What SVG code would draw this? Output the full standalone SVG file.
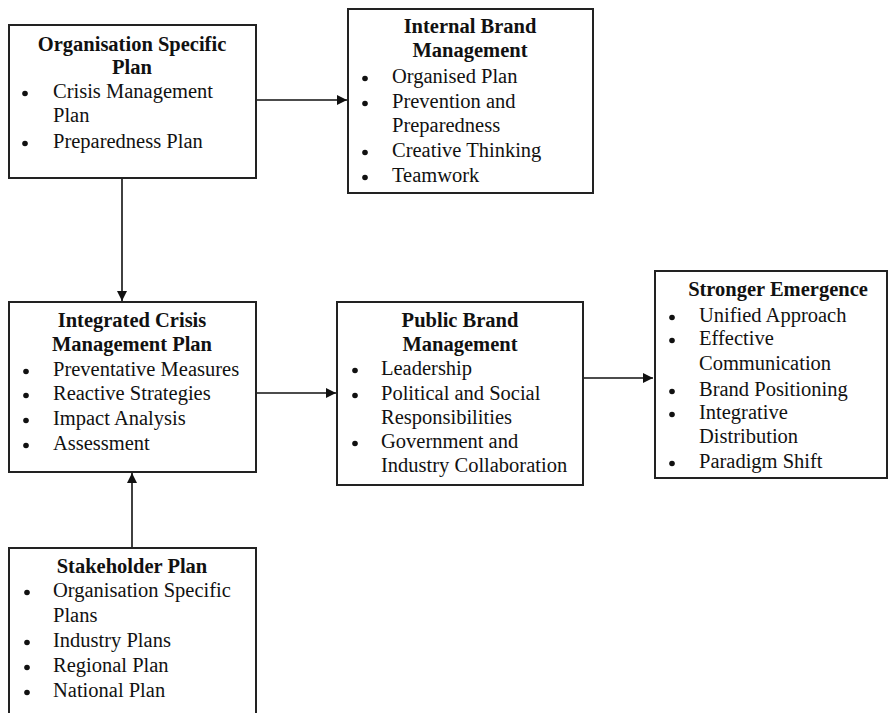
<svg xmlns="http://www.w3.org/2000/svg" width="890" height="713" viewBox="0 0 890 713">
<style>
text{font-family:"Liberation Serif","Times New Roman",serif;font-size:20.5px;fill:#111}
.t{font-weight:bold;text-anchor:middle}
.box{fill:#fff;stroke:#222;stroke-width:2}
.c{stroke:#111;stroke-width:1.6;fill:none}
.d{fill:#111}
</style>
<defs>
<marker id="ah" viewBox="0 0 10 10" refX="10" refY="5" markerWidth="10" markerHeight="10" markerUnits="userSpaceOnUse" orient="auto">
<path d="M0,0 L10,5 L0,10 Z" fill="#111"/>
</marker>
</defs>
<rect width="890" height="713" fill="#fff"/>
<g id="connectors">
<line class="c" x1="256" y1="100" x2="347" y2="100" marker-end="url(#ah)"/>
<line class="c" x1="122" y1="178" x2="122" y2="301" marker-end="url(#ah)"/>
<line class="c" x1="256" y1="393" x2="336" y2="393" marker-end="url(#ah)"/>
<line class="c" x1="583" y1="378" x2="653" y2="378" marker-end="url(#ah)"/>
<line class="c" x1="132" y1="548" x2="132" y2="473" marker-end="url(#ah)"/>
</g>
<g id="org-specific-plan">
<rect class="box" x="9" y="25" width="247" height="153"/>
<text class="t" x="132" y="51">Organisation Specific</text>
<text class="t" x="132" y="74">Plan</text>
<circle class="d" cx="25" cy="93.5" r="2.8"/><text x="53" y="98">Crisis Management</text>
<text x="53" y="122">Plan</text>
<circle class="d" cx="25" cy="143.5" r="2.8"/><text x="53" y="148">Preparedness Plan</text>
</g>
<g id="internal-brand">
<rect class="box" x="348" y="9" width="245" height="184"/>
<text class="t" x="470" y="33">Internal Brand</text>
<text class="t" x="470" y="57">Management</text>
<circle class="d" cx="365" cy="78.5" r="2.8"/><text x="392" y="83">Organised Plan</text>
<circle class="d" cx="365" cy="103.5" r="2.8"/><text x="392" y="108">Prevention and</text>
<text x="392" y="132">Preparedness</text>
<circle class="d" cx="365" cy="152.5" r="2.8"/><text x="392" y="157">Creative Thinking</text>
<circle class="d" cx="365" cy="177.5" r="2.8"/><text x="392" y="182">Teamwork</text>
</g>
<g id="integrated-crisis">
<rect class="box" x="9" y="302" width="247" height="170"/>
<text class="t" x="132" y="327">Integrated Crisis</text>
<text class="t" x="132" y="351">Management Plan</text>
<circle class="d" cx="26" cy="371.5" r="2.8"/><text x="53" y="376">Preventative Measures</text>
<circle class="d" cx="26" cy="395.5" r="2.8"/><text x="53" y="400">Reactive Strategies</text>
<circle class="d" cx="26" cy="420.5" r="2.8"/><text x="53" y="425">Impact Analysis</text>
<circle class="d" cx="26" cy="445.5" r="2.8"/><text x="53" y="450">Assessment</text>
</g>
<g id="public-brand">
<rect class="box" x="337" y="302" width="246" height="183"/>
<text class="t" x="460" y="327">Public Brand</text>
<text class="t" x="460" y="351">Management</text>
<circle class="d" cx="355" cy="370.5" r="2.8"/><text x="381" y="375">Leadership</text>
<circle class="d" cx="355" cy="395.5" r="2.8"/><text x="381" y="400">Political and Social</text>
<text x="381" y="424">Responsibilities</text>
<circle class="d" cx="355" cy="443.5" r="2.8"/><text x="381" y="448">Government and</text>
<text x="381" y="472">Industry Collaboration</text>
</g>
<g id="stronger-emergence">
<rect class="box" x="655" y="271" width="232" height="207"/>
<text class="t" x="778" y="296">Stronger Emergence</text>
<circle class="d" cx="672" cy="317.5" r="2.8"/><text x="699" y="322">Unified Approach</text>
<circle class="d" cx="672" cy="340.5" r="2.8"/><text x="699" y="345">Effective</text>
<text x="699" y="370">Communication</text>
<circle class="d" cx="672" cy="391.5" r="2.8"/><text x="699" y="396">Brand Positioning</text>
<circle class="d" cx="672" cy="414.5" r="2.8"/><text x="699" y="419">Integrative</text>
<text x="699" y="443">Distribution</text>
<circle class="d" cx="672" cy="463.5" r="2.8"/><text x="699" y="468">Paradigm Shift</text>
</g>
<g id="stakeholder-plan">
<rect class="box" x="9" y="548" width="247" height="180"/>
<text class="t" x="132" y="573">Stakeholder Plan</text>
<circle class="d" cx="27" cy="592.5" r="2.8"/><text x="53" y="597">Organisation Specific</text>
<text x="53" y="622">Plans</text>
<circle class="d" cx="27" cy="642.5" r="2.8"/><text x="53" y="647">Industry Plans</text>
<circle class="d" cx="27" cy="667.5" r="2.8"/><text x="53" y="672">Regional Plan</text>
<circle class="d" cx="27" cy="692.5" r="2.8"/><text x="53" y="697">National Plan</text>
</g>
</svg>
